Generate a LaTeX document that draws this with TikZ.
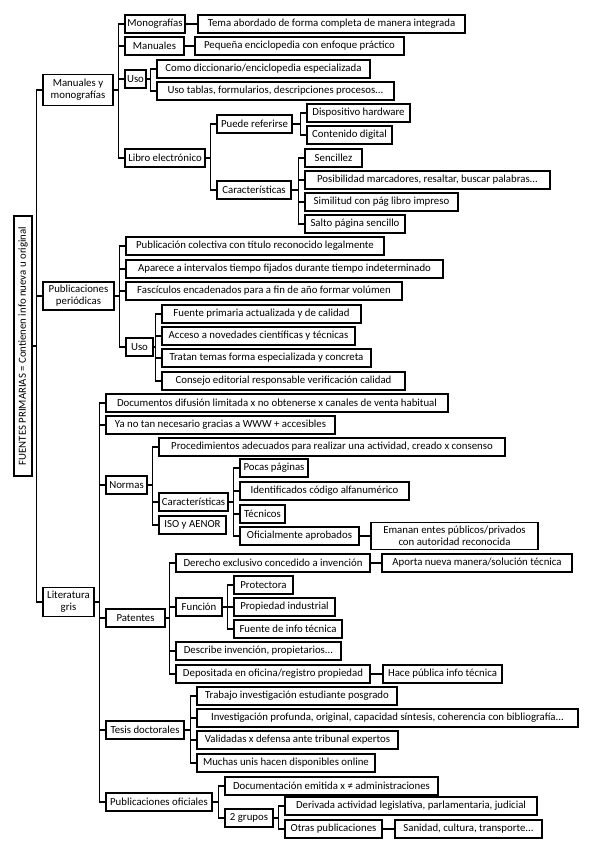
\documentclass[tikz,border=0pt]{standalone}
\usepackage{fontspec}
\setmainfont{Carlito}
\usetikzlibrary{calc}
\tikzset{
  bx/.style={draw=black, line width=1.2pt, inner xsep=2pt, inner ysep=1pt, minimum height=18, align=center, font=\fontsize{10.8}{12}\selectfont, fill=white},
  conn/.style={draw=black, line width=1.2pt},
}
\newcommand\mybox[6][]{\node[bx,#1,minimum width={#4-#3}] (#2) at ({(#3+#4)/2},#5) {#6};}
\newcommand\lnk[2]{\draw[conn] (#1.east) -| ([xshift=-6pt]#2.west) -- (#2.west);}
\begin{document}
\begin{tikzpicture}[x=1pt,y=-1pt]
\useasboundingbox (0,0) rectangle (599,848);
% root
\node[bx, rotate=90, minimum width=260, minimum height=18] (root) at (23,346) {FUENTES PRIMARIAS = Contienen info nueva u original};
% level 1
\mybox[minimum height=31]{mm}{43}{113}{90}{Manuales y\\ monografías}
\mybox[minimum height=28]{pp}{43}{114}{296}{Publicaciones\\ periódicas}
\mybox[minimum height=29]{lg}{43}{94}{602}{Literatura\\ gris}
% manuales y monografias
\mybox{mono}{125}{185}{24}{Monografías}
\mybox{tema}{198}{465}{24}{Tema abordado de forma completa de manera integrada}
\mybox{manu}{125}{184}{46}{Manuales}
\mybox{peq}{195}{404}{46}{Pequeña enciclopedia con enfoque práctico}
\mybox{usoa}{125}{146}{79}{Uso}
\mybox{dicc}{157}{370}{69}{Como diccionario/enciclopedia especializada}
\mybox{tabl}{157}{394}{91}{Uso tablas, formularios, descripciones procesos...}
\mybox{libro}{125}{205}{158}{Libro electrónico}
\mybox{puede}{217}{292}{124}{Puede referirse}
\mybox{cara}{217}{291}{190}{Características}
\mybox{disp}{307}{410}{113}{Dispositivo hardware}
\mybox{cont}{307}{392}{135}{Contenido digital}
\mybox{senc}{305}{362}{158}{Sencillez}
\mybox{posi}{305}{550}{180}{Posibilidad marcadores, resaltar, buscar palabras...}
\mybox{simi}{305}{458}{202}{Similitud con pág libro impreso}
\mybox{salt}{305}{405}{224}{Salto página sencillo}
% publicaciones periodicas
\mybox{pub}{126}{384}{246}{Publicación colectiva con título reconocido legalmente}
\mybox{apar}{126}{443}{269}{Aparece a intervalos tiempo fijados durante tiempo indeterminado}
\mybox{fasc}{126}{402}{291}{Fascículos encadenados para a fin de año formar volúmen}
\mybox{usob}{126}{153}{347}{Uso}
\mybox{fuen}{162}{361}{314}{Fuente primaria actualizada y de calidad}
\mybox{acce}{162}{355}{336}{Acceso a novedades científicas y técnicas}
\mybox{trat}{162}{371}{358}{Tratan temas forma especializada y concreta}
\mybox{cons}{162}{405}{381}{Consejo editorial responsable verificación calidad}
% literatura gris
\mybox{docs}{106}{448}{403}{Documentos difusión limitada x no obtenerse x canales de venta habitual}
\mybox{yano}{106}{335}{425}{Ya no tan necesario gracias a WWW + accesibles}
\mybox{norm}{106}{147}{485}{Normas}
\mybox{proc}{159}{505}{447}{Procedimientos adecuados para realizar una actividad, creado x consenso}
\mybox{carb}{159}{228}{502}{Características}
\mybox{iso}{159}{226}{525}{ISO y AENOR}
\mybox{poca}{240}{308}{468}{Pocas páginas}
\mybox{iden}{240}{409}{491}{Identificados código alfanumérico}
\mybox{tecn}{240}{285}{514}{Técnicos}
\mybox{ofic}{240}{359}{536}{Oficialmente aprobados}
\mybox[minimum height=27]{eman}{371}{538}{536}{Emanan entes públicos/privados\\ con autoridad reconocida}
\mybox{pat}{106}{165}{618}{Patentes}
\mybox{dere}{176}{370}{563}{Derecho exclusivo concedido a invención}
\mybox{apor}{382}{572}{563}{Aporta nueva manera/solución técnica}
\mybox{func}{176}{222}{607}{Función}
\mybox{prot}{234}{293}{585}{Protectora}
\mybox{prop}{234}{335}{607}{Propiedad industrial}
\mybox{fint}{234}{342}{629}{Fuente de info técnica}
\mybox{desc}{176}{341}{651}{Describe invención, propietarios...}
\mybox{depo}{176}{370}{674}{Depositada en oficina/registro propiedad}
\mybox{hace}{383}{502}{674}{Hace pública info técnica}
\mybox{tesis}{106}{184}{730}{Tesis doctorales}
\mybox{trab}{197}{397}{696}{Trabajo investigación estudiante posgrado}
\mybox{inve}{197}{578}{718}{Investigación profunda, original, capacidad síntesis, coherencia con bibliografía...}
\mybox{vali}{197}{398}{740}{Validadas x defensa ante tribunal expertos}
\mybox{much}{197}{375}{763}{Muchas unis hacen disponibles online}
\mybox{puof}{106}{212}{802}{Publicaciones oficiales}
\mybox{docu}{225}{438}{786}{Documentación emitida x ≠ administraciones}
\mybox{grup}{225}{273}{818}{2 grupos}
\mybox{deri}{285}{537}{806}{Derivada actividad legislativa, parlamentaria, judicial}
\mybox{otra}{285}{382}{829}{Otras publicaciones}
\mybox{sani}{395}{542}{829}{Sanidad, cultura, transporte...}
% connectors
\draw[conn] (root.south) -| ([xshift=-6pt]mm.west) -- (mm.west);
\draw[conn] (root.south) -| ([xshift=-6pt]pp.west) -- (pp.west);
\draw[conn] (root.south) -| ([xshift=-6pt]lg.west) -- (lg.west);
\lnk{mm}{mono}\lnk{mm}{manu}\lnk{mm}{usoa}\lnk{mm}{libro}
\lnk{mono}{tema}\lnk{manu}{peq}
\lnk{usoa}{dicc}\lnk{usoa}{tabl}
\lnk{libro}{puede}\lnk{libro}{cara}
\lnk{puede}{disp}\lnk{puede}{cont}
\lnk{cara}{senc}\lnk{cara}{posi}\lnk{cara}{simi}\lnk{cara}{salt}
\lnk{pp}{pub}\lnk{pp}{apar}\lnk{pp}{fasc}\lnk{pp}{usob}
\lnk{usob}{fuen}\lnk{usob}{acce}\lnk{usob}{trat}\lnk{usob}{cons}
\lnk{lg}{docs}\lnk{lg}{yano}\lnk{lg}{norm}\lnk{lg}{pat}\lnk{lg}{tesis}\lnk{lg}{puof}
\lnk{norm}{proc}\lnk{norm}{carb}\lnk{norm}{iso}
\lnk{carb}{poca}\lnk{carb}{iden}\lnk{carb}{tecn}\lnk{carb}{ofic}
\lnk{ofic}{eman}
\lnk{pat}{dere}\lnk{pat}{func}\lnk{pat}{desc}\lnk{pat}{depo}
\lnk{dere}{apor}
\lnk{func}{prot}\lnk{func}{prop}\lnk{func}{fint}
\lnk{depo}{hace}
\lnk{tesis}{trab}\lnk{tesis}{inve}\lnk{tesis}{vali}\lnk{tesis}{much}
\lnk{puof}{docu}\lnk{puof}{grup}
\lnk{grup}{deri}\lnk{grup}{otra}
\lnk{otra}{sani}
\end{tikzpicture}
\end{document}
